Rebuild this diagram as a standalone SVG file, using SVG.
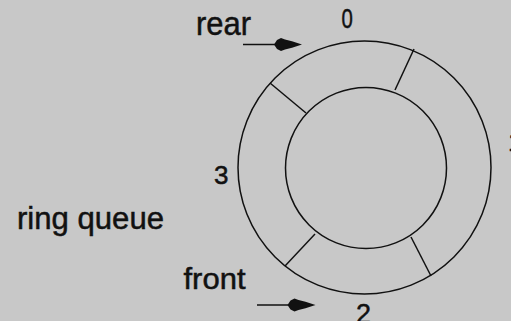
<svg xmlns="http://www.w3.org/2000/svg" width="511" height="321" viewBox="0 0 511 321">
<style>
.ln{fill:none;stroke:#111;stroke-width:1.5}
.t{font-family:"Liberation Sans",Arial,sans-serif;fill:#111;stroke:#111;stroke-width:0.5}
.hd{fill:#111}
</style>
<defs>
<path id="head" d="M0,0 L3,-4.5 L7,-6.5 L11,-5 L18,-3.2 L28,0 L18,3.2 L11,5 L7,6.5 L3,4.5 Z"/>
</defs>
<rect width="511" height="321" fill="#c8c8c8"/>
<g id="ring">
<circle class="ln" cx="364.5" cy="167.5" r="126.5"/>
<circle class="ln" cx="366" cy="168" r="80.5"/>
<line class="ln" x1="414" y1="49" x2="395" y2="90"/>
<line class="ln" x1="270" y1="83" x2="306" y2="113"/>
<line class="ln" x1="285" y1="266" x2="315" y2="234"/>
<line class="ln" x1="431" y1="276" x2="411" y2="237"/>
</g>
<g id="labels">
<text class="t" x="196" y="34.5" font-size="33" textLength="55" lengthAdjust="spacingAndGlyphs">rear</text>
<text class="t" x="17" y="228.5" font-size="31" textLength="147" lengthAdjust="spacingAndGlyphs">ring queue</text>
<text class="t" x="183.5" y="288.5" font-size="30" textLength="62" lengthAdjust="spacingAndGlyphs">front</text>
<text class="t" font-size="27.5" transform="translate(341.5,28.3) scale(0.74,1)">0</text>
<text class="t" x="214" y="183.5" font-size="26">3</text>
<text class="t" x="508" y="151" font-size="26">1</text>
<text class="t" x="356" y="322.5" font-size="27">2</text>
</g>
<g id="connectors">
<line class="ln" x1="243" y1="44.5" x2="280" y2="44.5"/>
<use href="#head" class="hd" x="274" y="44.5"/>
<line class="ln" x1="257" y1="305" x2="294" y2="305"/>
<use href="#head" class="hd" x="287.5" y="305"/>
</g>
</svg>
